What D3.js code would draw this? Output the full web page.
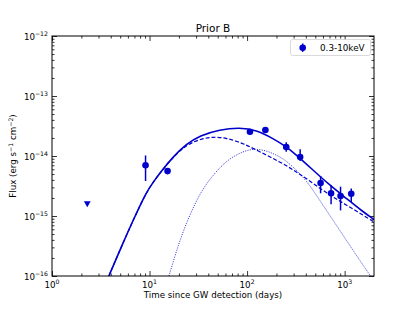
<!DOCTYPE html>
<html lang="en">
<head>
<meta charset="utf-8">
<title>Prior B</title>
<script src="https://d3js.org/d3.v7.min.js"></script>
<style>
  body { margin: 0; background: #fff; }
  text { font-family: "DejaVu Sans", sans-serif; }
</style>
</head>
<body>
<script>
// observed X-ray fluxes (0.3-10 keV)
var obsTime  = [9.1, 15.3, 107, 154, 252, 350, 567, 726, 908, 1169];
var obsFlux  = [7.0e-15, 5.6e-15, 2.54e-14, 2.71e-14, 1.41e-14, 9.6e-15, 3.55e-15, 2.39e-15, 2.15e-15, 2.35e-15];
var obsHigh  = [1.02e-14, 6.3e-15, 2.82e-14, 3.04e-14, 1.69e-14, 1.29e-14, 4.64e-15, 3.29e-15, 3.08e-15, 2.87e-15];
var obsLow   = [3.83e-15, 5.0e-15, 2.28e-14, 2.46e-14, 1.18e-14, 8.25e-15, 2.39e-15, 1.57e-15, 1.24e-15, 1.71e-15];

// upper limit
var ulTime = [2.3];
var ulFlux = [1.63e-15];

// model curves
var totTime = [3.83, 4.97, 6.8, 9.32, 10.9, 12.7, 17.4, 23.9, 32.7, 52.4, 84, 124.5, 184, 252, 320, 473, 700, 1038, 1536, 2000];
var totFlux = [1e-16, 2.71e-16, 8.58e-16, 2.54e-15, 3.65e-15, 5.15e-15, 9.73e-15, 1.58e-14, 2.2e-14, 2.76e-14, 2.99e-14, 2.71e-14, 1.97e-14, 1.43e-14, 1.04e-14, 5.85e-15, 3.29e-15, 1.97e-15, 1.18e-15, 8.75e-16];

var earlyTime = [3.83, 4.97, 6.8, 9.32, 10.9, 12.7, 17.4, 23.9, 32.7, 44.8, 61.4, 90.8, 134.5, 216, 320, 473, 700, 1038, 1536, 2000];
var earlyFlux = [1e-16, 2.71e-16, 8.58e-16, 2.54e-15, 3.65e-15, 5.15e-15, 9.6e-15, 1.53e-14, 1.9e-14, 2.1e-14, 2.0e-14, 1.63e-14, 1.18e-14, 8.04e-15, 5.47e-15, 3.51e-15, 2.24e-15, 1.53e-15, 1.04e-15, 7.94e-16];

var lateTime = [15.8, 18.2, 20.4, 24.1, 29.1, 35.1, 44.8, 61.4, 90.8, 124.5, 170, 233, 295, 404, 553, 757, 1038, 1421, 1841];
var lateFlux = [1e-16, 2.15e-16, 3.83e-16, 7.94e-16, 1.58e-15, 2.82e-15, 4.82e-15, 8.41e-15, 1.21e-14, 1.34e-14, 1.18e-14, 9.16e-15, 6.64e-15, 3.98e-15, 1.85e-15, 8.58e-16, 3.98e-16, 1.85e-16, 1e-16];

var xMajor = [1, 10, 100, 1000];
var yMajor = [1e-16, 1e-15, 1e-14, 1e-13, 1e-12];
var xExp = ["0", "1", "2", "3"];
var yExp = ["\u221216", "\u221215", "\u221214", "\u221213", "\u221212"];

var w = 415, h = 311;
var color = "#0000cd";

var svg = d3.select("body").append("svg")
    .attr("width", w)
    .attr("height", h);

var x = d3.scaleLog().domain([1, 2000]).range([52, 374]);
var y = d3.scaleLog().domain([1e-16, 1e-12]).range([276, 36]);

// minor tick values
var xMinor = [], yMinor = [];
[1, 10, 100, 1000].forEach(function(p) {
    for (var m = 2; m <= 9; m++) if (m * p < 2000) xMinor.push(m * p);
});
[1e-16, 1e-15, 1e-14, 1e-13].forEach(function(p) {
    for (var m = 2; m <= 9; m++) yMinor.push(m * p);
});

function styleAxis(g) {
    g.select(".domain").remove();
    g.selectAll("line").attr("stroke", "#000").attr("stroke-width", 0.8);
}

// ticks pointing inwards on all four sides
var frame = svg.append("g");
frame.append("g").attr("transform", "translate(0,276)")
    .call(d3.axisBottom(x).tickValues(xMajor).tickSize(-5).tickSizeOuter(0).tickFormat(""))
    .call(styleAxis);
frame.append("g").attr("transform", "translate(0,276)")
    .call(d3.axisBottom(x).tickValues(xMinor).tickSize(-2.5).tickSizeOuter(0).tickFormat(""))
    .call(styleAxis);
frame.append("g").attr("transform", "translate(0,36)")
    .call(d3.axisTop(x).tickValues(xMajor).tickSize(-5).tickSizeOuter(0).tickFormat(""))
    .call(styleAxis);
frame.append("g").attr("transform", "translate(0,36)")
    .call(d3.axisTop(x).tickValues(xMinor).tickSize(-2.5).tickSizeOuter(0).tickFormat(""))
    .call(styleAxis);
frame.append("g").attr("transform", "translate(52,0)")
    .call(d3.axisLeft(y).tickValues(yMajor).tickSize(-5).tickSizeOuter(0).tickFormat(""))
    .call(styleAxis);
frame.append("g").attr("transform", "translate(52,0)")
    .call(d3.axisLeft(y).tickValues(yMinor).tickSize(-2.5).tickSizeOuter(0).tickFormat(""))
    .call(styleAxis);
frame.append("g").attr("transform", "translate(374,0)")
    .call(d3.axisRight(y).tickValues(yMajor).tickSize(-5).tickSizeOuter(0).tickFormat(""))
    .call(styleAxis);
frame.append("g").attr("transform", "translate(374,0)")
    .call(d3.axisRight(y).tickValues(yMinor).tickSize(-2.5).tickSizeOuter(0).tickFormat(""))
    .call(styleAxis);

// tick labels 10^n
var xl = svg.append("g").selectAll("text")
    .data(xMajor)
    .enter()
    .append("text")
    .attr("x", function(d) { return x(d); })
    .attr("y", 288)
    .attr("text-anchor", "middle")
    .attr("font-size", "8.7px")
    .attr("fill", "#000");
xl.append("tspan").text("10");
xl.append("tspan").attr("dy", -4).attr("font-size", "6.2px").text(function(d, i) { return xExp[i]; });

var yl = svg.append("g").selectAll("text")
    .data(yMajor)
    .enter()
    .append("text")
    .attr("x", 48)
    .attr("y", function(d) { return y(d) + 4; })
    .attr("text-anchor", "end")
    .attr("font-size", "8.7px")
    .attr("fill", "#000");
yl.append("tspan").text("10");
yl.append("tspan").attr("dy", -4).attr("font-size", "6.2px").text(function(d, i) { return yExp[i]; });

// clip for model lines
svg.append("clipPath").attr("id", "plotclip")
    .append("rect").attr("x", 52).attr("y", 36).attr("width", 322).attr("height", 240);

var line = d3.line()
    .x(function(d) { return x(d[0]); })
    .y(function(d) { return y(d[1]); })
    .curve(d3.curveBasis);

var curves = svg.append("g").attr("clip-path", "url(#plotclip)");

curves.append("path")
    .datum(d3.zip(lateTime, lateFlux))
    .attr("d", line)
    .attr("fill", "none")
    .attr("stroke", color)
    .attr("stroke-width", 1)
    .attr("stroke-dasharray", "1,1.4")
    .attr("opacity", 0.85);

curves.append("path")
    .datum(d3.zip(earlyTime, earlyFlux))
    .attr("d", line)
    .attr("fill", "none")
    .attr("stroke", color)
    .attr("stroke-width", 1.2)
    .attr("stroke-dasharray", "4,2");

curves.append("path")
    .datum(d3.zip(totTime, totFlux))
    .attr("d", line)
    .attr("fill", "none")
    .attr("stroke", color)
    .attr("stroke-width", 1.6);

// error bars and points
var pts = svg.append("g");
pts.selectAll("line")
    .data(obsTime)
    .enter()
    .append("line")
    .attr("x1", function(d) { return x(d); })
    .attr("x2", function(d) { return x(d); })
    .attr("y1", function(d, i) { return y(obsHigh[i]); })
    .attr("y2", function(d, i) { return y(obsLow[i]); })
    .attr("stroke", color)
    .attr("stroke-width", 1.5);

pts.selectAll("circle")
    .data(obsTime)
    .enter()
    .append("circle")
    .attr("cx", function(d) { return x(d); })
    .attr("cy", function(d, i) { return y(obsFlux[i]); })
    .attr("r", 3.3)
    .attr("fill", color);

pts.selectAll("path")
    .data(ulTime)
    .enter()
    .append("path")
    .attr("d", d3.symbol().type(d3.symbolTriangle).size(20))
    .attr("transform", function(d, i) { return "translate(" + x(d) + "," + y(ulFlux[i]) + ") rotate(180)"; })
    .attr("fill", color);

// frame
svg.append("rect")
    .attr("x", 52).attr("y", 36)
    .attr("width", 322).attr("height", 240)
    .attr("fill", "none")
    .attr("stroke", "#000")
    .attr("stroke-width", 1);

// legend
var leg = svg.append("g");
leg.append("rect")
    .attr("x", 290.5).attr("y", 39.5)
    .attr("width", 80).attr("height", 16)
    .attr("rx", 2)
    .attr("fill", "#fff")
    .attr("stroke", "#d0d0d0")
    .attr("stroke-width", 0.8);
leg.append("line")
    .attr("x1", 302.7).attr("x2", 302.7)
    .attr("y1", 43.5).attr("y2", 51.9)
    .attr("stroke", color).attr("stroke-width", 1.5);
leg.append("circle")
    .attr("cx", 302.7).attr("cy", 47.7).attr("r", 3.3)
    .attr("fill", color);
leg.append("text")
    .attr("x", 320).attr("y", 51)
    .attr("font-size", "8.8px")
    .attr("fill", "#000")
    .text("0.3-10keV");

// title and axis labels
svg.append("text")
    .attr("x", 213).attr("y", 32)
    .attr("text-anchor", "middle")
    .attr("font-size", "10.5px")
    .attr("fill", "#000")
    .text("Prior B");

svg.append("text")
    .attr("x", 213).attr("y", 298)
    .attr("text-anchor", "middle")
    .attr("font-size", "8.7px")
    .attr("fill", "#000")
    .text("Time since GW detection (days)");

var yt = svg.append("text")
    .attr("transform", "translate(16,156) rotate(-90)")
    .attr("text-anchor", "middle")
    .attr("font-size", "8.7px")
    .attr("fill", "#000");
yt.append("tspan").text("Flux (erg s");
yt.append("tspan").attr("dy", -3.5).attr("font-size", "6.2px").text("\u22121");
yt.append("tspan").attr("dy", 3.5).text(" cm");
yt.append("tspan").attr("dy", -3.5).attr("font-size", "6.2px").text("\u22122");
yt.append("tspan").attr("dy", 3.5).text(")");
</script>
</body>
</html>
